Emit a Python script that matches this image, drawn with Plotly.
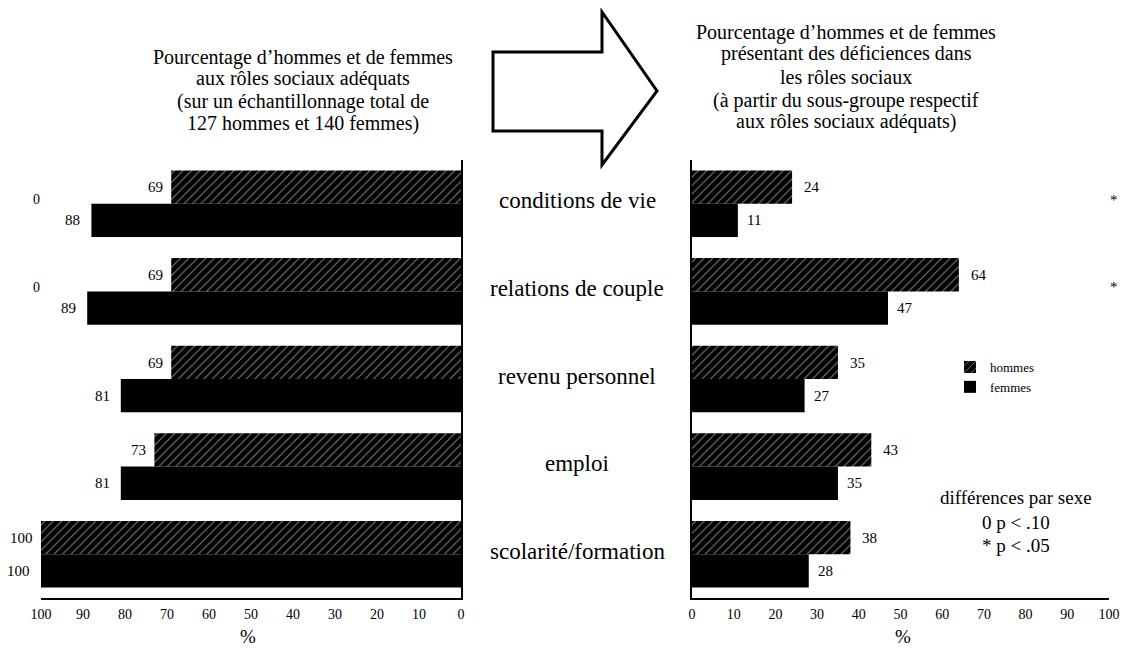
import plotly.graph_objects as go

# page body has an 8px default margin; build figure so it fits the window exactly
OFF = 8
W, H = 1129 - OFF, 651 - OFF

categories = ["conditions de vie", "relations de couple", "revenu personnel", "emploi", "scolarité/formation"]
left_hommes = [69, 69, 69, 73, 100]
left_femmes = [88, 89, 81, 81, 100]
right_hommes = [24, 64, 35, 43, 38]
right_femmes = [11, 47, 27, 35, 28]
sig_left = ["0", "0", "", "", ""]
sig_right = ["*", "*", "", "", ""]
tick_values = list(range(0, 101, 10))
tick_labels = [str(v) for v in tick_values]
major_ticks = list(range(0, 101, 20))

left_title = ["Pourcentage d\u2019hommes et de femmes", "aux rôles sociaux adéquats",
              "(sur un échantillonnage total de", "127 hommes et 140 femmes)"]
right_title = ["Pourcentage d\u2019hommes et de femmes", "présentant des déficiences dans",
               "les rôles sociaux", "(à partir du sous-groupe respectif",
               "aux rôles sociaux adéquats)"]
notes = ["différences par sexe", "0 p < .10", "* p < .05"]

FONT = "Liberation Serif"

def px(x):
    return (x - OFF) / W

def py(y):
    return 1 - (y - OFF) / H

hatch = dict(shape="/", fgcolor="white", bgcolor="black", size=6, solidity=0.18)

fig = go.Figure()
fig.add_trace(go.Bar(y=categories, x=left_hommes, orientation="h", name="hommes",
                     marker=dict(color="black", pattern=hatch, line=dict(width=0)),
                     xaxis="x", yaxis="y", showlegend=True))
fig.add_trace(go.Bar(y=categories, x=left_femmes, orientation="h", name="femmes",
                     marker=dict(color="black", line=dict(width=0)),
                     xaxis="x", yaxis="y", showlegend=True))
fig.add_trace(go.Bar(y=categories, x=right_hommes, orientation="h", name="hommes",
                     marker=dict(color="black", pattern=hatch, line=dict(width=0)),
                     xaxis="x2", yaxis="y2", showlegend=False))
fig.add_trace(go.Bar(y=categories, x=right_femmes, orientation="h", name="femmes",
                     marker=dict(color="black", line=dict(width=0)),
                     xaxis="x2", yaxis="y2", showlegend=False))

ydom = [py(598), py(160)]
axfont = dict(family=FONT, size=14, color="black")

fig.update_layout(
    width=W, height=H,
    margin=dict(l=0, r=0, t=0, b=0, autoexpand=False),
    paper_bgcolor="white", plot_bgcolor="white",
    barmode="group", bargap=0.24, bargroupgap=0,
    font=dict(family=FONT, color="black"),
    xaxis=dict(domain=[px(41), px(461)], range=[100, 0], tickvals=tick_values, ticktext=tick_labels,
               ticks="", showline=True, linecolor="black", linewidth=2, showgrid=False, zeroline=False,
               tickfont=axfont, ticklabelstandoff=2, anchor="y", automargin=False),
    yaxis=dict(domain=ydom, autorange="reversed", side="right", showline=True, linecolor="black",
               linewidth=2, showticklabels=False, ticks="", showgrid=False, anchor="x", automargin=False),
    xaxis2=dict(domain=[px(692), px(1109)], range=[0, 100], tickvals=tick_values, ticktext=tick_labels,
                ticks="", showline=True, linecolor="black", linewidth=2, showgrid=False, zeroline=False,
                tickfont=axfont, ticklabelstandoff=2, anchor="y2", automargin=False),
    yaxis2=dict(domain=ydom, autorange="reversed", side="left", showline=True, linecolor="black",
                linewidth=2, showticklabels=False, ticks="", showgrid=False, anchor="x2", automargin=False),
    xaxis3=dict(overlaying="x", range=[100, 0], tickvals=major_ticks, ticks="inside", ticklen=5,
                tickwidth=2, tickcolor="black", showticklabels=False, showline=False, showgrid=False,
                zeroline=False, anchor="y", automargin=False),
    xaxis4=dict(overlaying="x2", range=[0, 100], tickvals=major_ticks, ticks="inside", ticklen=5,
                tickwidth=2, tickcolor="black", showticklabels=False, showline=False, showgrid=False,
                zeroline=False, anchor="y2", automargin=False),
    legend=dict(x=px(950), y=py(352), xanchor="left", yanchor="top", font=dict(family=FONT, size=13),
                bgcolor="rgba(0,0,0,0)", tracegroupgap=0, itemwidth=30),
)

ann = []
for c in categories:
    ann.append(dict(x=px(577), xref="paper", y=c, yref="y", yshift=3, text=c, showarrow=False,
                    font=dict(family=FONT, size=23), xanchor="center", yanchor="middle"))
off = 16.5
vfont = dict(family=FONT, size=15)
for c, vh, vf in zip(categories, left_hommes, left_femmes):
    ann.append(dict(x=vh, xref="x", y=c, yref="y", yshift=off, text=str(vh), showarrow=False,
                    xanchor="right", xshift=-6, font=vfont))
    ann.append(dict(x=vf, xref="x", y=c, yref="y", yshift=-off, text=str(vf), showarrow=False,
                    xanchor="right", xshift=-9, font=vfont))
for c, vh, vf in zip(categories, right_hommes, right_femmes):
    ann.append(dict(x=vh, xref="x2", y=c, yref="y2", yshift=off, text=str(vh), showarrow=False,
                    xanchor="left", xshift=10, font=vfont))
    ann.append(dict(x=vf, xref="x2", y=c, yref="y2", yshift=-off, text=str(vf), showarrow=False,
                    xanchor="left", xshift=7, font=vfont))
for c, s in zip(categories, sig_left):
    if s:
        ann.append(dict(x=px(31), xref="paper", y=c, yref="y", yshift=4, text=s, showarrow=False,
                        font=dict(family=FONT, size=14)))
for c, s in zip(categories, sig_right):
    if s:
        ann.append(dict(x=px(1114), xref="paper", y=c, yref="y2", yshift=4, text=s, showarrow=False,
                        xanchor="center", font=dict(family=FONT, size=15)))
tfont = dict(family=FONT, size=20)
for t, yy in zip(left_title, [57, 79, 101, 123]):
    ann.append(dict(x=px(303), y=py(yy), xref="paper", yref="paper", text=t, showarrow=False,
                    font=tfont, xanchor="center", yanchor="middle"))
for t, yy in zip(right_title, [32, 54, 77, 100, 122]):
    ann.append(dict(x=px(846), y=py(yy), xref="paper", yref="paper", text=t, showarrow=False,
                    font=tfont, xanchor="center", yanchor="middle"))
for t, yy in zip(notes, [498, 522, 545]):
    ann.append(dict(x=px(1016), y=py(yy), xref="paper", yref="paper", text=t, showarrow=False,
                    font=dict(family=FONT, size=19), xanchor="center", yanchor="middle"))
for xx in [248, 903]:
    ann.append(dict(x=px(xx), y=py(636), xref="paper", yref="paper", text="%", showarrow=False,
                    font=dict(family=FONT, size=19), xanchor="center", yanchor="middle"))
fig.update_layout(annotations=ann)

pts = [(493, 52), (602, 52), (602, 12), (657, 91), (602, 165), (602, 131), (493, 131)]
path = "M " + " L ".join(f"{px(x):.5f},{py(y):.5f}" for x, y in pts) + " Z"
fig.add_shape(type="path", path=path, xref="paper", yref="paper",
              line=dict(color="black", width=3), fillcolor="white")

fig.write_html("out.html")
